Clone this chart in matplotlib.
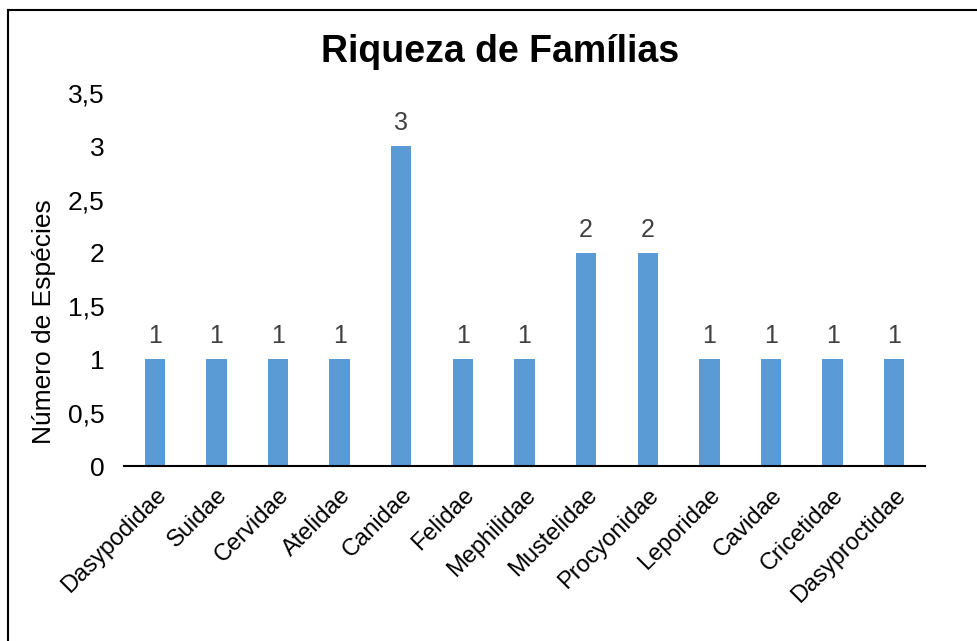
import matplotlib
matplotlib.use("Agg")
import matplotlib.pyplot as plt
from matplotlib.lines import Line2D
from matplotlib.ticker import FuncFormatter

families = ["Dasypodidae", "Suidae", "Cervidae", "Atelidae", "Canidae", "Felidae",
            "Mephilidae", "Mustelidae", "Procyonidae", "Leporidae", "Cavidae",
            "Cricetidae", "Dasyproctidae"]
species = [1, 1, 1, 1, 3, 1, 1, 2, 2, 1, 1, 1, 1]
yticks = [0, 0.5, 1, 1.5, 2, 2.5, 3, 3.5]

plt.rcParams['font.family'] = ['Liberation Sans', 'DejaVu Sans']

W, H = 977, 641
fig = plt.figure(figsize=(W/100, H/100), dpi=100)
ax = fig.add_axes([124/W, 1-466/H, (925-124)/W, (466-93)/H])

x = list(range(len(families)))
bars = ax.bar(x, species, width=0.33, color="#5B9BD5", zorder=2)
ax.set_xlim(-0.5, len(families)-0.5)
ax.set_ylim(0, 3.5)
ax.set_yticks(yticks)
ax.yaxis.set_major_formatter(FuncFormatter(lambda v, p: (f"{v:g}").replace(".", ",")))
ax.set_xticks(x)
ax.set_xticklabels(families, rotation=45, ha="right", rotation_mode="anchor", fontsize=17)
ax.tick_params(axis="y", length=0, labelsize=19, pad=14)
ax.tick_params(axis="x", length=0, pad=13)
for s in ["top", "right", "left"]:
    ax.spines[s].set_visible(False)
ax.spines["bottom"].set_linewidth(1.5)
ax.spines["bottom"].set_color("black")

for xi, v in zip(x, species):
    ax.annotate(str(v), (xi, v), xytext=(0, 8), textcoords="offset points",
                ha="center", va="bottom", fontsize=18, color="#404040")

fig.text(44/W, 1-322/H, "Número de Espécies", rotation=90, ha="center", va="center",
         fontsize=19)
fig.text(500/W, 1-52/H, "Riqueza de Famílias", ha="center", va="center",
         fontsize=27, fontweight="bold")

# outer border (top and left visible, others outside the image)
fig.add_artist(Line2D([8/W, 1.0], [1-10/H, 1-10/H], transform=fig.transFigure, color="black", lw=1.5))
fig.add_artist(Line2D([8/W, 8/W], [0, 1-10/H], transform=fig.transFigure, color="black", lw=1.5))

fig.savefig("out.png", dpi=100)
